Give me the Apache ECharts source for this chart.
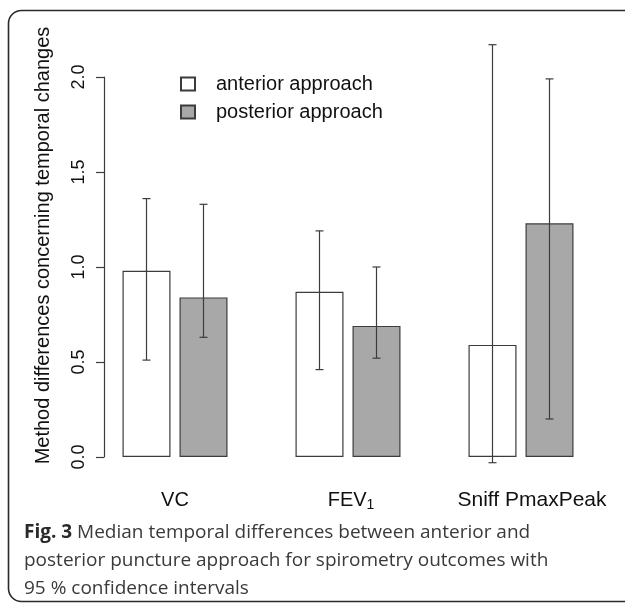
<!DOCTYPE html>
<html>
<head>
<meta charset="utf-8">
<script src="https://cdn.jsdelivr.net/npm/echarts@6/dist/echarts.min.js"></script>
<style>
html,body{margin:0;padding:0;background:#fff;}
#chart{width:625px;height:605px;}
</style>
</head>
<body>
<div id="chart"></div>
<script>
// ---- data ----
var categories = ['VC', 'FEV1', 'Sniff PmaxPeak'];
var seriesNames = ['anterior approach', 'posterior approach'];
var anteriorMedian = [0.98, 0.87, 0.59];
var anteriorLow = [0.51, 0.46, -0.03];
var anteriorHigh = [1.36, 1.19, 2.17];
var posteriorMedian = [0.84, 0.69, 1.23];
var posteriorLow = [0.63, 0.52, 0.20];
var posteriorHigh = [1.33, 1.00, 1.99];
var yTicks = [0, 0.5, 1.0, 1.5, 2.0];

// ---- styles ----
var BAR_W = 48, BAR_GAP = 9;
var barOffset = (BAR_W + BAR_GAP) / 2;
var lineColor = '#3c3c3c';

function errData(low, high) {
  return categories.map(function (c, i) { return [i, low[i], high[i]]; });
}
function errRender(offset) {
  return function (params, api) {
    var x = api.value(0);
    var lo = api.coord([x, api.value(1)]);
    var hi = api.coord([x, api.value(2)]);
    var cx = lo[0] + offset;
    var cap = 4;
    var st = { stroke: lineColor, lineWidth: 1.2 };
    return {
      type: 'group',
      children: [
        { type: 'line', shape: { x1: cx, y1: lo[1], x2: cx, y2: hi[1] }, style: st },
        { type: 'line', shape: { x1: cx - cap, y1: lo[1], x2: cx + cap, y2: lo[1] }, style: st },
        { type: 'line', shape: { x1: cx - cap, y1: hi[1], x2: cx + cap, y2: hi[1] }, style: st }
      ]
    };
  };
}

var chart = echarts.init(document.getElementById('chart'), null, { renderer: 'canvas' });
var option = {
  animation: false,
  backgroundColor: '#fff',
  graphic: [{
    type: 'rect',
    shape: { x: 8.5, y: 10.5, width: 660, height: 591, r: 13 },
    style: { fill: 'none', stroke: '#2a2a2a', lineWidth: 1.6 },
    silent: true, z: -1
  }],
  title: {
    left: 24, top: 519, padding: 0,
    text: '{b|Fig. 3} Median temporal differences between anterior and\nposterior puncture approach for spirometry outcomes with\n95 % confidence intervals',
    textStyle: {
      fontFamily: 'Open Sans', fontSize: 19, fontWeight: 'normal', color: '#3a3a3a', lineHeight: 28,
      rich: {
        b: { fontFamily: 'Open Sans', fontSize: 19, fontWeight: 'bold', color: '#2a2a2a', lineHeight: 28 }
      }
    }
  },
  legend: {
    orient: 'vertical', left: 180, top: 74, padding: 0,
    itemWidth: 14, itemHeight: 13, itemGap: 8,
    icon: 'rect',
    data: seriesNames,
    textStyle: { fontFamily: 'Liberation Sans', fontSize: 20, color: '#111', padding: [0, 0, 0, 16] }
  },
  grid: { left: 88.5, right: 17.5, top: 77, bottom: 605 - 457 },
  xAxis: {
    type: 'category',
    data: categories,
    axisLine: { show: false },
    axisTick: { show: false },
    axisLabel: {
      margin: 33, interval: 0, hideOverlap: false,
      fontFamily: 'Liberation Sans', fontSize: 20, color: '#111',
      formatter: function (v) {
        if (v === 'FEV1') return '{f|FEV}{s|1}';
        if (v === 'Sniff PmaxPeak') return '{p|Sniff PmaxPeak}';
        return '{n|' + v + '}';
      },
      rich: {
        n: { fontFamily: 'Liberation Sans', fontSize: 20, color: '#111' },
        f: { fontFamily: 'Liberation Sans', fontSize: 20, color: '#111', padding: [0, 0, 6, 6] },
        s: { fontFamily: 'Liberation Sans', fontSize: 14, color: '#111', padding: [4, 0, 0, 0] },
        p: { fontFamily: 'Liberation Sans', fontSize: 21, color: '#111', padding: [0, 0, 0, 22] }
      }
    }
  },
  yAxis: {
    type: 'value',
    min: 0, max: 2.0, interval: 0.5,
    offset: -15.5,
    name: 'Method differences concerning temporal changes',
    nameLocation: 'middle',
    nameGap: 51,
    nameRotate: 90,
    nameTextStyle: { fontFamily: 'Liberation Sans', fontSize: 20, color: '#111', padding: [0, 0, 0, 43] },
    axisLine: { show: true, lineStyle: { color: lineColor, width: 1.2 } },
    axisTick: { show: true, length: 8, lineStyle: { color: lineColor, width: 1.2 } },
    splitLine: { show: false },
    axisLabel: {
      rotate: 90, margin: 16,
      fontFamily: 'Liberation Sans', fontSize: 18, color: '#111',
      align: 'center', verticalAlign: 'bottom',
      formatter: function (v) {
        for (var i = 0; i < yTicks.length; i++) if (Math.abs(yTicks[i] - v) < 1e-9) return yTicks[i].toFixed(1);
        return '';
      }
    }
  },
  series: [
    {
      name: seriesNames[0], type: 'bar', data: anteriorMedian,
      barWidth: BAR_W, barGap: (BAR_GAP / BAR_W * 100) + '%',
      itemStyle: { color: '#ffffff', borderColor: lineColor, borderWidth: 1.2 }
    },
    {
      name: seriesNames[1], type: 'bar', data: posteriorMedian,
      barWidth: BAR_W, barGap: (BAR_GAP / BAR_W * 100) + '%',
      itemStyle: { color: '#a8a8a8', borderColor: lineColor, borderWidth: 1.2 }
    },
    {
      type: 'custom', name: 'err-a', data: errData(anteriorLow, anteriorHigh),
      renderItem: errRender(-barOffset), encode: { x: 0, y: [1, 2] }, clip: false, z: 5, silent: true
    },
    {
      type: 'custom', name: 'err-p', data: errData(posteriorLow, posteriorHigh),
      renderItem: errRender(barOffset), encode: { x: 0, y: [1, 2] }, clip: false, z: 5, silent: true
    }
  ]
};
chart.setOption(option);
</script>
</body>
</html>
